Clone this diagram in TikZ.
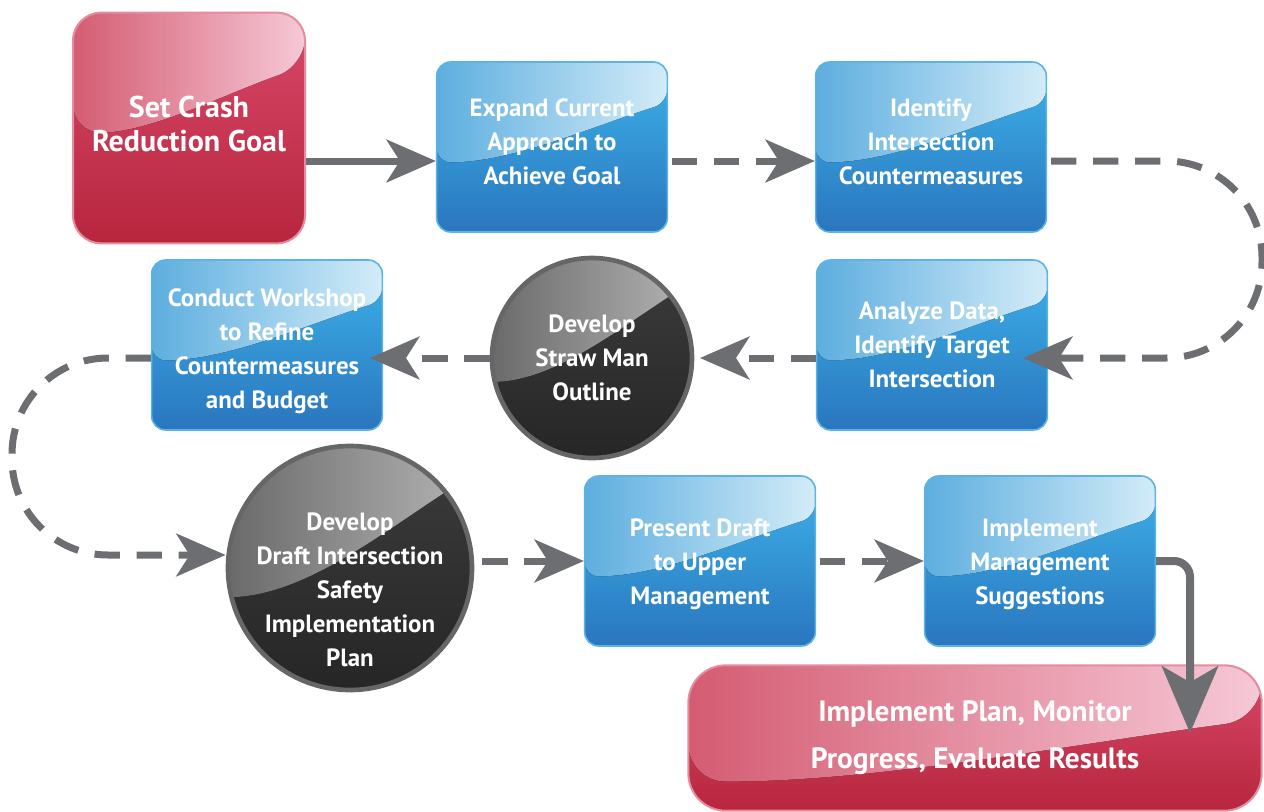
\documentclass[tikz,border=0pt]{standalone}
\usepackage{fontspec}
\newfontfamily\flowfont{PT Sans}
\usetikzlibrary{arrows.meta,calc}

\definecolor{arrowgray}{HTML}{6D6E71}
\definecolor{bluetop}{HTML}{3DB3EA}
\definecolor{bluebot}{HTML}{2A76BE}
\definecolor{bluerim}{HTML}{5DB3E4}
\definecolor{blueglossL}{HTML}{5DAEDF}
\definecolor{blueglossR}{HTML}{D3ECF8}
\definecolor{redtop}{HTML}{D9496A}
\definecolor{redbot}{HTML}{B7263D}
\definecolor{redrim}{HTML}{E58C9E}
\definecolor{redglossL}{HTML}{D45C72}
\definecolor{redglossR}{HTML}{F6C8D6}
\definecolor{darktop}{HTML}{3C3C3C}
\definecolor{darkbot}{HTML}{262626}
\definecolor{darkrim}{HTML}{666666}
\definecolor{darkglossL}{HTML}{6A6A6A}
\definecolor{darkglossR}{HTML}{B4B4B4}

% light upper part of a box: #1 left colour, #2 right colour, #3/#4 where the edge meets left/right side
\newcommand\glossfill[4]{%
  \coordinate (gnw) at (path picture bounding box.north west);
  \coordinate (gne) at (path picture bounding box.north east);
  \coordinate (gsw) at (path picture bounding box.south west);
  \coordinate (gse) at (path picture bounding box.south east);
  \coordinate (gl) at ($(gnw)!#3!(gsw)$);
  \coordinate (gr) at ($(gne)!#4!(gse)$);
  \coordinate (gc) at (gl -| gr);
  \coordinate (ga) at ($(gl)!0.33!(gc)$);
  \coordinate (gb) at ($(gl)!0.67!(gc)$);
  \coordinate (gd) at ($(gb)!0.6!(gb |- gr)$);
  \fill[left color=#1, right color=#2] (gnw) -- (gne) -- (gr)
    .. controls (gd) and (ga) .. (gl) -- cycle;
}

\tikzset{every picture/.style={line width=0.75pt}}
\tikzset{
  flowtext/.style={text=white, align=center, inner sep=0pt,
    font=\flowfont\bfseries\fontsize{18.7}{25.5}\selectfont},
  % #1 extra text options, #2 the text
  boxtext/.style 2 args={label={[flowtext, #1]center:#2}},
  bluebox/.style={rectangle, rounded corners=10.5pt,
    minimum width=173pt, minimum height=127.5pt,
    top color=bluetop, bottom color=bluebot, draw=bluerim, line width=1.2pt,
    path picture={\glossfill{blueglossL}{blueglossR}{0.59}{0.24}}},
  redbox/.style={rectangle, rounded corners=21pt,
    top color=redtop, bottom color=redbot, draw=redrim, line width=1.5pt},
  darkdisc/.style={circle,
    top color=darktop, bottom color=darkbot, draw=darkrim, line width=3.5pt,
    path picture={\glossfill{darkglossL}{darkglossR}{0.62}{0.12}}},
  flowline/.style={draw=arrowgray, line width=5.25pt,
    -{Stealth[length=37pt,width=32pt,inset=10pt]}},
  dashline/.style={flowline, dash pattern=on 19pt off 12.5pt},
}

\begin{document}
\begin{tikzpicture}[x=0.75pt,y=0.75pt,yscale=-1,xscale=1]
\useasboundingbox (0,0) rectangle (1264,811);

% rows the connectors run along
\coordinate (row1) at (0,161);
\coordinate (row2) at (0,358);
\coordinate (row3) at (0,561);
\coordinate (row3a) at (0,555);
\coordinate (loopR) at (1262,0);
\coordinate (loopL) at (12,0);
\coordinate (downX) at (1190,0);

%Shape: red start box
\node[redbox, minimum width=174pt, minimum height=173pt,
  path picture={\glossfill{redglossL}{redglossR}{0.52}{0.23}},
  boxtext={yshift=3pt, font=\flowfont\bfseries\fontsize{22.5}{25.5}\selectfont}%
    {Set Crash\\Reduction Goal}]
  (goal) at (189,128) {};

%Shape: first row
\node[bluebox, boxtext={yshift=4pt}{Expand Current\\Approach to\\Achieve Goal}]
  (expand) at (552,147) {};
\node[bluebox, boxtext={yshift=4pt}{Identify\\Intersection\\Countermeasures}]
  (identify) at (931,147) {};

%Shape: second row
\node[bluebox, boxtext={}{Analyze Data,\\Identify Target\\Intersection}]
  (analyze) at (932,345) {};
\node[darkdisc, minimum size=150pt, boxtext={}{Develop\\Straw Man\\Outline}]
  (strawman) at (592,358) {};
\node[bluebox, boxtext={yshift=-4.5pt}{Conduct Workshop\\to Refine\\Countermeasures\\and Budget}]
  (workshop) at (267,345) {};

%Shape: third row
\node[darkdisc, minimum size=183pt,
  boxtext={yshift=-16.5pt}{Develop\\Draft Intersection\\Safety\\Implementation\\Plan}]
  (draft) at (350,568) {};
\node[bluebox, boxtext={yshift=-2.25pt}{Present Draft\\to Upper\\Management}]
  (present) at (700,561) {};
\node[bluebox, boxtext={yshift=-2.25pt}{Implement\\Management\\Suggestions}]
  (implmgmt) at (1040,561) {};

%Shape: red end box
\node[redbox, rounded corners=28pt, minimum width=430pt, minimum height=109pt,
  path picture={\glossfill{redglossL}{redglossR}{0.8}{0.37}},
  boxtext={font=\flowfont\bfseries\fontsize{22}{35.5}\selectfont}%
    {Implement Plan, Monitor\\Progress, Evaluate Results}]
  (final) at (975,738) {};

% arrow ends that sit inside a box
\coordinate (analyzeIn) at (1023,358);
\coordinate (workshopIn) at (370,358);
\coordinate (strawIn) at (700,358);
\coordinate (finalIn) at (1190,733);

%Connectors
\draw[flowline] (goal.east |- row1) -- (expand.west |- row1);
\draw[dashline] ([xshift=3pt]expand.east |- row1) -- (identify.west |- row1);
\draw[dashline, rounded corners=72pt] ([xshift=3pt]identify.east |- row1)
  -- (loopR |- row1) -- (loopR |- row2) -- (analyzeIn);
\draw[dashline] (analyze.west |- row2) -- (strawIn);
\draw[dashline] (strawman.west |- row2) -- (workshopIn);
\draw[dashline, rounded corners=72pt] (workshop.west |- row2)
  -- (loopL |- row2) -- (loopL |- row3a) -- (draft.west |- row3a);
\draw[dashline] ([xshift=6pt]draft.east |- row3) -- (present.west |- row3);
\draw[dashline] ([xshift=3pt]present.east |- row3) -- (implmgmt.west |- row3);
\draw[flowline, line width=6pt, rounded corners=12pt,
  -{Stealth[length=50pt,width=42pt,inset=12pt]}]
  (implmgmt.east |- row3) -- (downX |- row3) -- (finalIn);

\end{tikzpicture}
\end{document}
